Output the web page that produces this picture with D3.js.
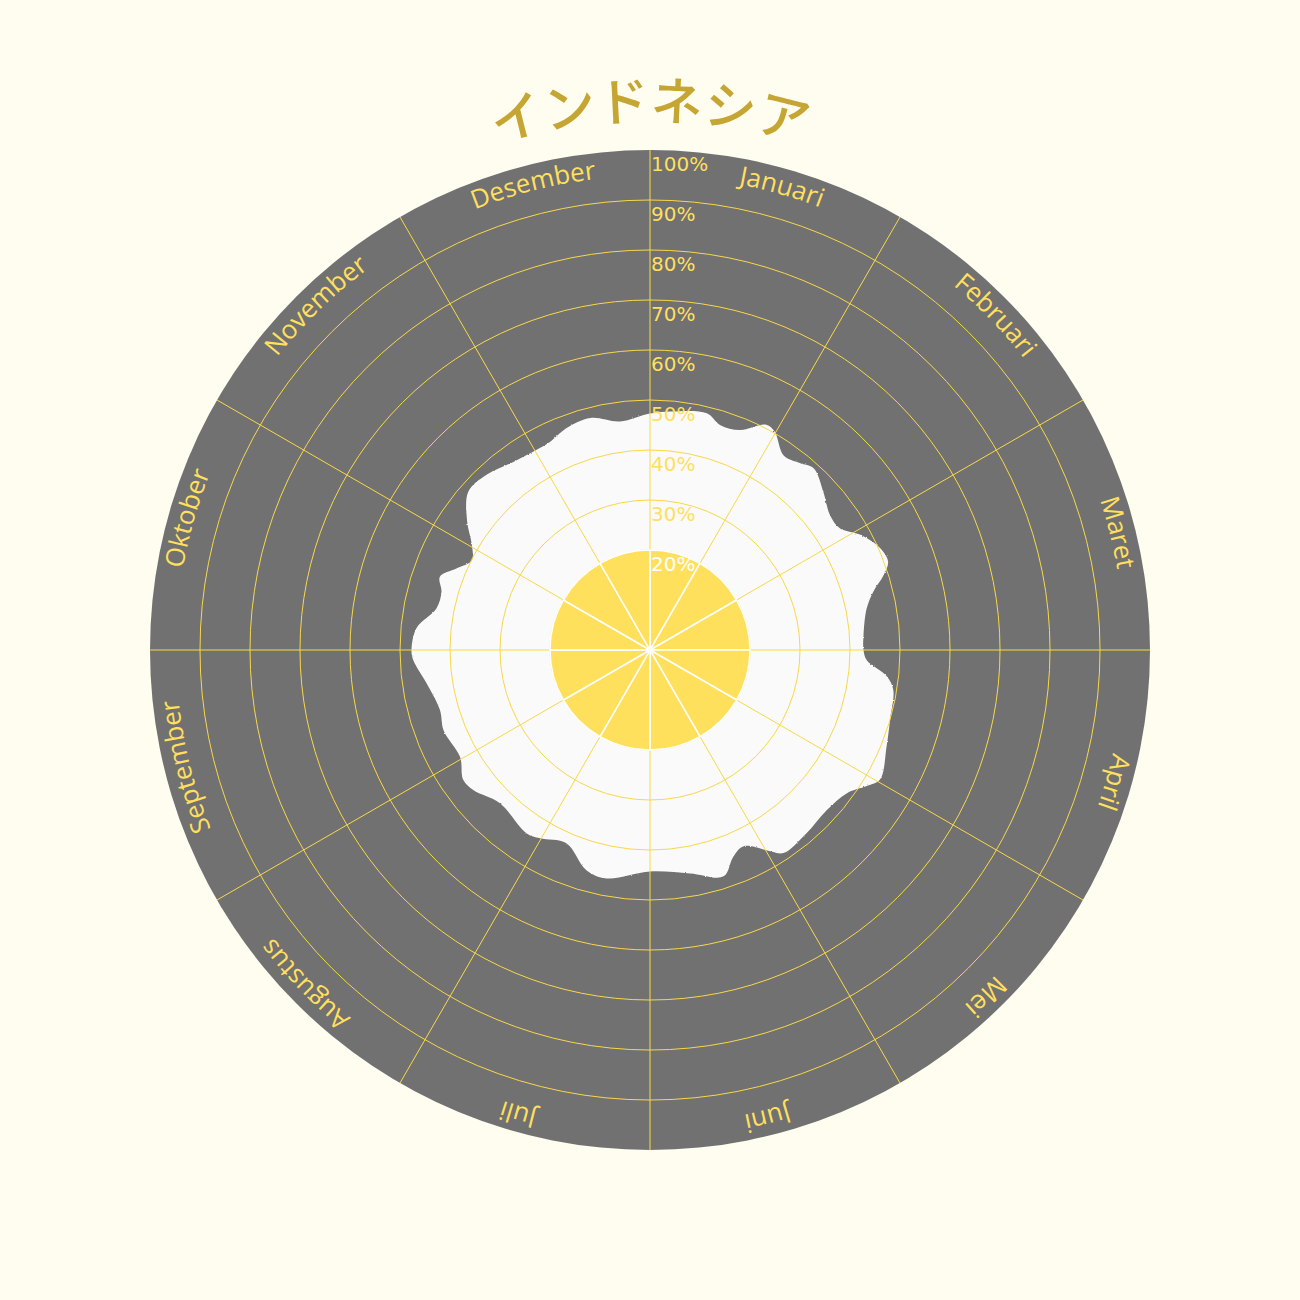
<!DOCTYPE html>
<html>
<head>
<meta charset="utf-8">
<script src="https://cdn.jsdelivr.net/npm/d3@7"></script>
<style>
  html, body { margin: 0; padding: 0; background: #fffdf0; }
  svg { display: block; }
</style>
</head>
<body>
<svg id="chart" width="1300" height="1300"></svg>
<script>
// ---- data ----
const title = "インドネシア";
const months = ["Januari","Februari","Maret","April","Mei","Juni","Juli","Augustus","September","Oktober","November","Desember"];
const tickValues = [20, 30, 40, 50, 60, 70, 80, 90, 100];
const tickLabels = ["20%","30%","40%","50%","60%","70%","80%","90%","100%"];
// position through the year in months (0 = start of Januari, 12 = end of Desember)
const monthPos = [0.00,0.17,0.45,0.58,0.74,0.91,0.99,1.15,1.29,1.40,1.59,1.77,1.91,2.04,2.20,2.32,2.41,2.51,2.64,2.87,
                  3.00,3.09,3.21,3.31,3.54,3.74,3.98,4.07,4.20,4.41,4.65,4.89,4.97,5.15,5.27,5.40,5.66,6.00,6.36,6.54,
                  6.78,7.01,7.13,7.48,7.72,7.84,8.02,8.29,8.47,8.72,8.92,9.00,9.18,9.37,9.52,9.64,9.76,9.89,10.02,10.17,
                  10.37,10.57,10.80,11.02,11.15,11.31,11.52,11.75];
const values   = [47.3,47.9,48.7,47.1,47.5,50.7,50.3,47.2,47.9,48.9,46.9,45.0,45.1,47.9,50.3,50.8,49.0,46.2,44.1,42.8,
                  42.7,43.4,47.6,49.3,50.0,51.1,52.8,51.2,48.7,47.7,48.2,48.6,46.9,43.5,44.6,47.6,45.4,44.3,46.5,45.8,
                  42.1,43.6,44.2,42.9,45.1,45.5,43.6,44.3,43.7,45.2,47.4,47.7,46.9,43.5,43.3,44.5,42.0,39.9,41.4,44.7,
                  48.2,47.9,46.5,46.0,46.2,47.4,47.9,46.1];
const innerValue = 20;

// ---- layout ----
const W = 1300, H = 1300, cx = 650, cy = 650, R = 500;
const svg = d3.select("#chart");
svg.append("rect").attr("width", W).attr("height", H).attr("fill", "#fffdf0");

const defs = svg.append("defs");
const filt = defs.append("filter").attr("id", "rough").attr("x", "-10%").attr("y", "-10%").attr("width", "120%").attr("height", "120%");
filt.append("feTurbulence").attr("type", "fractalNoise").attr("baseFrequency", 0.9).attr("numOctaves", 2).attr("seed", 3).attr("result", "n");
filt.append("feDisplacementMap").attr("in", "SourceGraphic").attr("in2", "n").attr("scale", 2).attr("xChannelSelector", "R").attr("yChannelSelector", "G");

const g = svg.append("g").attr("transform", `translate(${cx},${cy})`);

const rScale = d3.scaleLinear().domain([0, 100]).range([0, R]);
const aScale = d3.scaleLinear().domain([0, 12]).range([0, 2 * Math.PI]);

// background disk
g.append("circle").attr("r", rScale(100)).attr("fill", "#717171");

// data blob
const pts = monthPos.map((m, i) => [aScale(m), rScale(values[i])]);
const line = d3.lineRadial().angle(d => d[0]).radius(d => d[1]).curve(d3.curveCatmullRomClosed.alpha(0.5));
g.append("path").attr("d", line(pts)).attr("fill", "#fafafa").attr("filter", "url(#rough)");

// grid circles
const gridColor = "#f8d848";
g.selectAll("circle.grid").data(tickValues.filter(v => v < 100)).join("circle")
  .attr("class", "grid").attr("r", d => rScale(d)).attr("fill", "none")
  .attr("stroke", gridColor).attr("stroke-width", 1);

// spokes
g.selectAll("line.spoke").data(d3.range(12)).join("line")
  .attr("class", "spoke")
  .attr("x1", 0).attr("y1", 0)
  .attr("x2", d => rScale(100) * Math.sin(aScale(d)))
  .attr("y2", d => -rScale(100) * Math.cos(aScale(d)))
  .attr("stroke", gridColor).attr("stroke-width", 1);

// inner yellow disk of 12 wedges
const arc = d3.arc().innerRadius(0).outerRadius(rScale(innerValue));
g.selectAll("path.wedge").data(d3.range(12)).join("path")
  .attr("class", "wedge")
  .attr("d", d => arc({startAngle: aScale(d), endAngle: aScale(d + 1)}))
  .attr("fill", "#ffe05c").attr("stroke", "#ffffff").attr("stroke-width", 1.5);

// tick labels
g.selectAll("text.tick").data(tickValues).join("text")
  .attr("class", "tick")
  .attr("x", 1).attr("y", d => -rScale(d) + 21)
  .attr("font-family", "DejaVu Sans, sans-serif").attr("font-size", 20)
  .attr("fill", d => d === innerValue ? "#ffffff" : "#ffdf5e")
  .text((d, i) => tickLabels[i]);

// month labels on circular path (starting from bottom, clockwise)
function circlePath(r) {
  return `M0,${r} A${r},${r} 0 1,1 0,${-r} A${r},${r} 0 1,1 0,${r}`;
}
defs.append("path").attr("id", "monthArc").attr("d", circlePath(474)).attr("transform", `translate(${cx},${cy})`);
defs.append("path").attr("id", "titleArc").attr("d", circlePath(530)).attr("transform", `translate(${cx},${cy})`);

svg.selectAll("text.month").data(months).join("text")
  .attr("class", "month")
  .attr("font-family", "Open Sans, sans-serif").attr("font-size", 26)
  .attr("fill", "#ffdf5e")
  .append("textPath")
  .attr("href", "#monthArc")
  .attr("text-anchor", "middle")
  .attr("startOffset", (d, i) => (((aScale(i + 0.53) * 180 / Math.PI + 180) % 360) / 360 * 100) + "%")
  .text(d => d);

svg.append("text")
  .attr("font-family", "Noto Sans CJK JP, sans-serif").attr("font-size", 52).attr("font-weight", 500)
  .attr("fill", "#c6a633")
  .append("textPath").attr("href", "#titleArc").attr("text-anchor", "middle").attr("startOffset", "50%")
  .text(title);
</script>
</body>
</html>
